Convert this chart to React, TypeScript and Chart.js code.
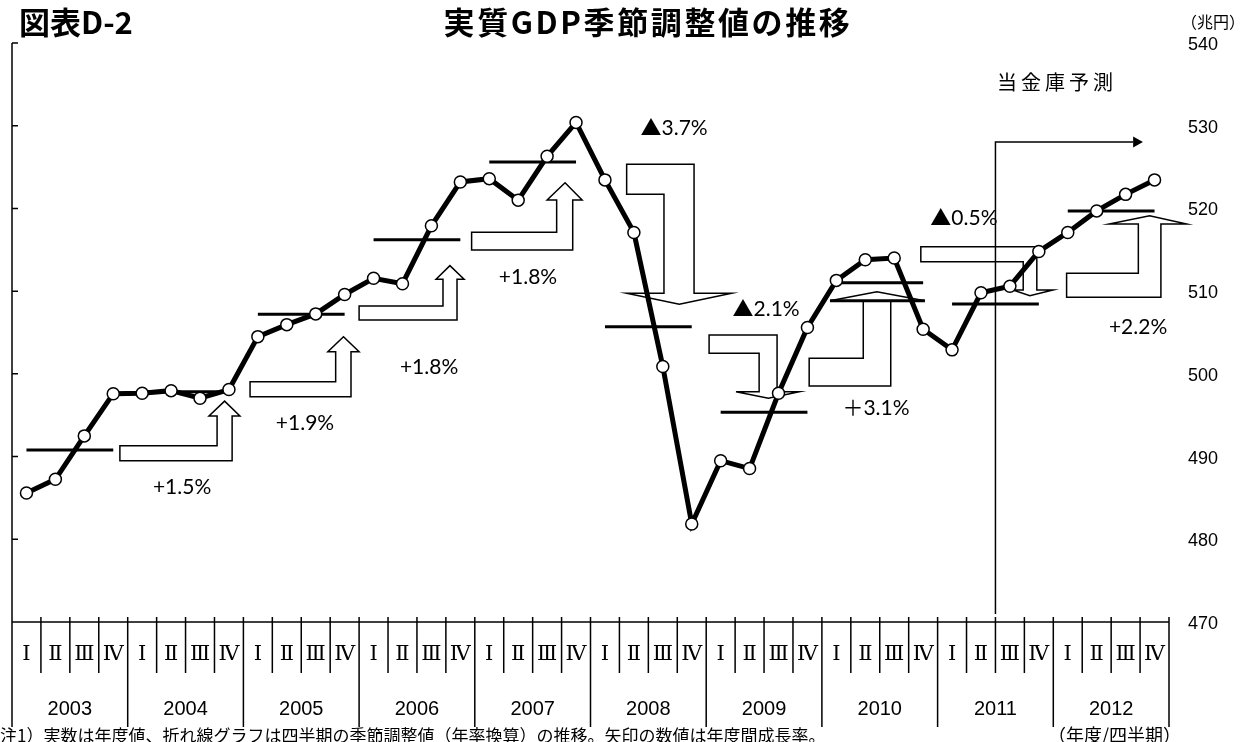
import React, { useEffect, useRef } from 'react';
import { Chart, registerables } from 'chart.js';

Chart.register(...registerables);

// ---------------- data ----------------
const years = ['2003', '2004', '2005', '2006', '2007', '2008', '2009', '2010', '2011', '2012'];
const quarterNames = ['Ⅰ', 'Ⅱ', 'Ⅲ', 'Ⅳ'];
const quarterLabels = years.flatMap((y) => quarterNames.map((q) => `${y} ${q}`));

// quarterly real GDP, seasonally adjusted, annualized (trillion yen)
const gdpQuarterly = [
  485.6, 487.25, 492.5, 497.6,
  497.65, 497.97, 497.05, 498.1,
  504.5, 505.95, 507.25, 509.6,
  511.55, 510.9, 517.9, 523.2,
  523.6, 521.0, 526.3, 530.4,
  523.45, 517.1, 500.9, 481.85,
  489.5, 488.55, 497.65, 505.6,
  511.3, 513.8, 514.0, 505.4,
  502.9, 509.8, 510.6, 514.8,
  517.1, 519.7, 521.7, 523.45,
];

// fiscal-year actual values (horizontal bars)
const gdpAnnual = [490.8, 497.85, 507.2, 516.2, 525.6, 505.7, 495.35, 511.0, 508.45, 519.7];

// year-on-year growth labels on the arrows
const growthLabels = ['+1.5%', '+1.9%', '+1.8%', '+1.8%', '▲3.7%', '▲2.1%', '＋3.1%', '▲0.5%', '+2.2%'];

const yTicks = [470, 480, 490, 500, 510, 520, 530, 540];

const titleLeft = '図表D-2';
const titleMain = '実質GDP季節調整値の推移';
const unitLabel = '（兆円）';
const forecastLabel = '当金庫予測';
const footnote = '注1）実数は年度値、折れ線グラフは四半期の季節調整値（年率換算）の推移。矢印の数値は年度間成長率。';
const axisNote = '（年度/四半期）';

// ---------------- annotation layout (in scale units: x = quarter index, y = value) ----------------
type ArrowDef = {
  dir: 'up' | 'down';
  barL: number; shaftL: number; shaftR: number; headL: number; headR: number; tipX: number;
  barTop: number; barBot: number; headBase: number; tipY: number;
  labelX: number; labelY: number; thickBase?: boolean;
};

const arrowLayout: ArrowDef[] = [
  { dir: 'up', barL: 3.23, shaftL: 6.59, shaftR: 7.11, headL: 6.31, headR: 7.38, tipX: 6.85, barTop: 491.3, barBot: 489.5, headBase: 494.9, tipY: 496.7, labelX: 5.38, labelY: 486.3 },
  { dir: 'up', barL: 7.73, shaftL: 10.69, shaftR: 11.22, headL: 10.42, headR: 11.5, tipX: 10.96, barTop: 499.05, barBot: 497.24, headBase: 502.68, tipY: 504.49, labelX: 9.63, labelY: 494.06 },
  { dir: 'up', barL: 11.5, shaftL: 14.4, shaftR: 14.885, headL: 14.16, headR: 15.13, tipX: 14.64, barTop: 508.2, barBot: 506.51, headBase: 511.43, tipY: 513.08, labelX: 13.92, labelY: 500.83 },
  { dir: 'up', barL: 15.39, shaftL: 18.33, shaftR: 18.885, headL: 18.0, headR: 19.21, tipX: 18.62, barTop: 517.11, barBot: 514.97, headBase: 521.02, tipY: 523.11, labelX: 17.34, labelY: 511.71 },
  { dir: 'down', barL: 20.75, shaftL: 22.04, shaftR: 23.08, headL: 20.75, headR: 24.38, tipX: 22.57, barTop: 525.33, barBot: 521.71, headBase: 509.74, tipY: 508.41, labelX: 22.39, labelY: 529.72 },
  { dir: 'down', barL: 23.6, shaftL: 25.33, shaftR: 25.95, headL: 24.53, headR: 26.72, tipX: 25.65, barTop: 504.7, barBot: 502.49, headBase: 497.84, tipY: 497.05, labelX: 25.57, labelY: 507.84 },
  { dir: 'up', barL: 27.06, shaftL: 28.93, shaftR: 29.88, headL: 27.78, headR: 31.06, tipX: 29.4, barTop: 501.88, barBot: 498.53, headBase: 508.84, tipY: 509.93, labelX: 29.37, labelY: 495.87, thickBase: true },
  { dir: 'down', barL: 30.92, shaftL: 34.46, shaftR: 34.93, headL: 34.1, headR: 35.49, tipX: 34.69, barTop: 515.37, barBot: 513.56, headBase: 510.14, tipY: 509.45, labelX: 32.41, labelY: 518.84 },
  { dir: 'up', barL: 35.96, shaftL: 38.44, shaftR: 39.22, headL: 37.43, headR: 40.11, tipX: 38.83, barTop: 512.16, barBot: 509.26, headBase: 518.12, tipY: 519.12, labelX: 38.43, labelY: 505.67 },
];

const forecastLayout = { x: 33.5, yTop: 528.03, headBase: 38.26, tip: 38.6, labelX: 35.63, labelY: 535.29 };

const JP = '"Noto Sans CJK JP", sans-serif';
const NUM = '"Liberation Sans", Arial, sans-serif';
const PCT = 'Lato, "Noto Sans CJK JP", sans-serif';

function drawText(
  ctx: CanvasRenderingContext2D, s: string, x: number, y: number, font: string,
  align: CanvasTextAlign = 'center', spacing = '0px'
) {
  ctx.save();
  ctx.font = font;
  ctx.fillStyle = '#000';
  ctx.textAlign = align;
  ctx.textBaseline = 'middle';
  (ctx as any).letterSpacing = spacing;
  ctx.fillText(s, x, y);
  ctx.restore();
}

const decorPlugin = {
  id: 'decor',
  beforeDatasetsDraw(chart: any) {
    const ctx: CanvasRenderingContext2D = chart.ctx;
    const xs = chart.scales.x;
    const ys = chart.scales.y;
    const X = (v: number) => xs.getPixelForValue(v);
    const Y = (v: number) => ys.getPixelForValue(v);
    const area = chart.chartArea;

    ctx.save();
    // arrows
    arrowLayout.forEach((a, i) => {
      ctx.beginPath();
      if (a.dir === 'up') {
        ctx.moveTo(X(a.barL), Y(a.barTop));
        ctx.lineTo(X(a.shaftL), Y(a.barTop));
        ctx.lineTo(X(a.shaftL), Y(a.headBase));
        ctx.lineTo(X(a.headL), Y(a.headBase));
        ctx.lineTo(X(a.tipX), Y(a.tipY));
        ctx.lineTo(X(a.headR), Y(a.headBase));
        ctx.lineTo(X(a.shaftR), Y(a.headBase));
        ctx.lineTo(X(a.shaftR), Y(a.barBot));
        ctx.lineTo(X(a.barL), Y(a.barBot));
      } else {
        ctx.moveTo(X(a.barL), Y(a.barTop));
        ctx.lineTo(X(a.shaftR), Y(a.barTop));
        ctx.lineTo(X(a.shaftR), Y(a.headBase));
        ctx.lineTo(X(a.headR), Y(a.headBase));
        ctx.lineTo(X(a.tipX), Y(a.tipY));
        ctx.lineTo(X(a.headL), Y(a.headBase));
        ctx.lineTo(X(a.shaftL), Y(a.headBase));
        ctx.lineTo(X(a.shaftL), Y(a.barBot));
        ctx.lineTo(X(a.barL), Y(a.barBot));
      }
      ctx.closePath();
      ctx.fillStyle = '#fff';
      ctx.fill();
      ctx.strokeStyle = '#000';
      ctx.lineWidth = 1.5;
      ctx.lineJoin = 'miter';
      ctx.stroke();
      if (a.thickBase) {
        ctx.beginPath();
        ctx.moveTo(X(a.headL), Y(a.headBase));
        ctx.lineTo(X(a.headR), Y(a.headBase));
        ctx.lineWidth = 3;
        ctx.stroke();
      }
      drawText(ctx, growthLabels[i], X(a.labelX), Y(a.labelY), `21px ${PCT}`);
    });

    // axes
    ctx.strokeStyle = '#000';
    ctx.lineWidth = 1.5;
    const axisBottom = area.bottom + 105;
    ctx.beginPath();
    ctx.moveTo(area.left, area.top);
    ctx.lineTo(area.left, axisBottom);
    ctx.moveTo(area.left, area.bottom);
    ctx.lineTo(area.right, area.bottom);
    yTicks.forEach((t) => {
      ctx.moveTo(area.left, Y(t));
      ctx.lineTo(area.left + 6, Y(t));
    });
    for (let k = 1; k <= quarterLabels.length; k++) {
      const x = X(k - 0.5);
      ctx.moveTo(x, area.bottom - 5);
      ctx.lineTo(x, k % 4 === 0 ? axisBottom : area.bottom + 51);
    }
    ctx.stroke();

    // quarter labels
    quarterLabels.forEach((_, i) => {
      drawText(ctx, quarterNames[i % 4], X(i), area.bottom + 33, `21px "DejaVu Serif", "Liberation Serif", serif`);
    });
    years.forEach((y, k) => {
      drawText(ctx, y, X(k * 4 + 1.5), area.bottom + 87, `20px ${NUM}`);
    });

    // y labels (right side)
    yTicks.forEach((t) => {
      drawText(ctx, String(t), area.right + 19, Y(t) + 2, `18px ${NUM}`, 'left');
    });
    drawText(ctx, unitLabel, area.right + 12, 22, `16px ${JP}`, 'left');

    // titles
    drawText(ctx, titleLeft, 19, 22, `bold 31px ${JP}`, 'left');
    drawText(ctx, titleMain, 648, 22, `bold 31px ${JP}`, 'center', '2.6px');

    // footnotes
    drawText(ctx, footnote, 0, 736, `17px ${JP}`, 'left');
    drawText(ctx, axisNote, 1048, 735, `18px ${JP}`, 'left');
    ctx.restore();
  },
  afterDatasetsDraw(chart: any) {
    const ctx: CanvasRenderingContext2D = chart.ctx;
    const xs = chart.scales.x;
    const ys = chart.scales.y;
    const X = (v: number) => xs.getPixelForValue(v);
    const Y = (v: number) => ys.getPixelForValue(v);
    const area = chart.chartArea;
    const f = forecastLayout;
    ctx.save();
    ctx.strokeStyle = '#000';
    ctx.lineWidth = 1.5;
    ctx.beginPath();
    ctx.moveTo(X(f.x), area.bottom - 8);
    ctx.lineTo(X(f.x), Y(f.yTop));
    ctx.lineTo(X(f.headBase), Y(f.yTop));
    ctx.stroke();
    ctx.beginPath();
    ctx.moveTo(X(f.headBase), Y(f.yTop) - 5.5);
    ctx.lineTo(X(f.tip), Y(f.yTop));
    ctx.lineTo(X(f.headBase), Y(f.yTop) + 5.5);
    ctx.closePath();
    ctx.fillStyle = '#000';
    ctx.fill();
    drawText(ctx, forecastLabel, X(f.labelX), Y(f.labelY), `20px ${JP}`, 'center', '4px');
    ctx.restore();
  },
};

export default function App() {
  const ref = useRef<HTMLCanvasElement>(null);
  useEffect(() => {
    const canvas = ref.current!;
    const annualSets = gdpAnnual.map((v, k) => ({
      type: 'line' as const,
      data: quarterLabels.map((_, i) => (Math.floor(i / 4) === k ? v : null)),
      borderColor: '#000',
      borderWidth: 3,
      pointRadius: 0,
      pointHoverRadius: 0,
      spanGaps: false,
      order: 2,
      clip: false as any,
    }));
    const chart = new Chart(canvas, {
      type: 'line',
      data: {
        labels: quarterLabels,
        datasets: [
          {
            data: gdpQuarterly,
            borderColor: '#000',
            borderWidth: 5,
            pointRadius: 6,
            pointBackgroundColor: '#fff',
            pointBorderColor: '#000',
            pointBorderWidth: 1.5,
            tension: 0,
            order: 1,
            clip: false as any,
          },
          ...annualSets,
        ],
      },
      options: {
        responsive: false,
        animation: false,
        devicePixelRatio: 1,
        layout: { padding: { left: 12, right: 81, top: 43, bottom: 120 } },
        plugins: { legend: { display: false }, tooltip: { enabled: false } },
        events: [],
        scales: {
          x: { type: 'category', offset: true, display: false },
          y: { min: 470, max: 540, display: false },
        },
      },
      plugins: [decorPlugin],
    });
    return () => chart.destroy();
  }, []);
  return (
    <div style={{ position: 'fixed', left: 0, top: 0, width: 1250, height: 742, background: '#fff' }}>
      <canvas ref={ref} width={1250} height={742} style={{ width: 1250, height: 742, display: 'block' }} />
    </div>
  );
}
